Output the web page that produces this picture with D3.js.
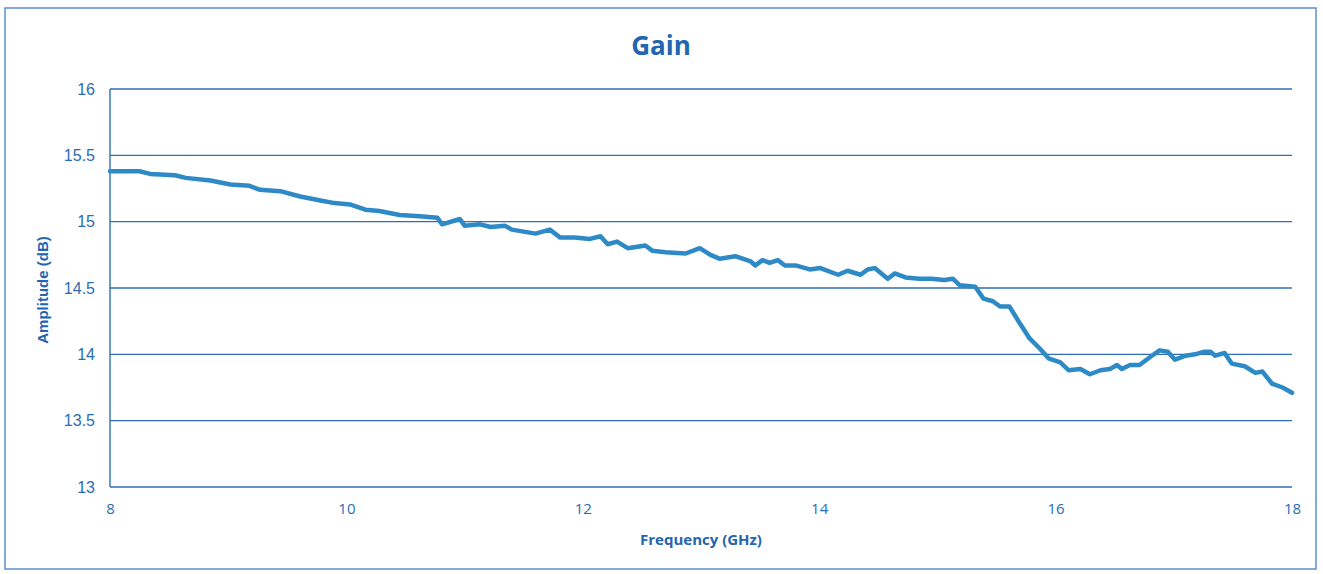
<!DOCTYPE html>
<html>
<head>
<meta charset="utf-8">
<script src="https://cdn.jsdelivr.net/npm/d3@7"></script>
<style>
  html, body { margin: 0; padding: 0; background: #ffffff; }
  svg { display: block; }
</style>
</head>
<body>
<svg id="chart" width="1323" height="574"></svg>
<script>
const title = "Gain";
const xLabel = "Frequency (GHz)";
const yLabel = "Amplitude (dB)";
const xTicks = [8, 10, 12, 14, 16, 18];
const yTicks = [13, 13.5, 14, 14.5, 15, 15.5, 16];

const freq = [8.00, 8.25, 8.34, 8.55, 8.64, 8.85, 9.02, 9.18, 9.27, 9.44, 9.61, 9.78, 9.90, 10.03, 10.16, 10.28, 10.45, 10.62, 10.77, 10.81, 10.96, 11.00, 11.13, 11.22, 11.34, 11.40, 11.60, 11.72, 11.81, 11.93, 12.06, 12.15, 12.21, 12.29, 12.38, 12.53, 12.59, 12.70, 12.87, 12.99, 13.08, 13.16, 13.29, 13.42, 13.46, 13.52, 13.58, 13.65, 13.71, 13.80, 13.92, 14.01, 14.16, 14.24, 14.35, 14.41, 14.47, 14.58, 14.64, 14.73, 14.85, 14.95, 15.06, 15.13, 15.19, 15.32, 15.39, 15.47, 15.53, 15.61, 15.70, 15.78, 15.87, 15.94, 16.04, 16.11, 16.21, 16.29, 16.38, 16.46, 16.52, 16.56, 16.63, 16.71, 16.80, 16.88, 16.95, 17.01, 17.10, 17.18, 17.26, 17.31, 17.35, 17.43, 17.49, 17.60, 17.69, 17.75, 17.83, 17.92, 18.00];
const gain = [15.38, 15.38, 15.36, 15.35, 15.33, 15.31, 15.28, 15.27, 15.24, 15.23, 15.19, 15.16, 15.14, 15.13, 15.09, 15.08, 15.05, 15.04, 15.03, 14.98, 15.02, 14.97, 14.98, 14.96, 14.97, 14.94, 14.91, 14.94, 14.88, 14.88, 14.87, 14.89, 14.83, 14.85, 14.80, 14.82, 14.78, 14.77, 14.76, 14.80, 14.75, 14.72, 14.74, 14.70, 14.67, 14.71, 14.69, 14.71, 14.67, 14.67, 14.64, 14.65, 14.60, 14.63, 14.60, 14.64, 14.65, 14.57, 14.61, 14.58, 14.57, 14.57, 14.56, 14.57, 14.52, 14.51, 14.42, 14.40, 14.36, 14.36, 14.23, 14.12, 14.04, 13.97, 13.94, 13.88, 13.89, 13.85, 13.88, 13.89, 13.92, 13.89, 13.92, 13.92, 13.98, 14.03, 14.02, 13.96, 13.99, 14.00, 14.02, 14.02, 13.99, 14.01, 13.93, 13.91, 13.86, 13.87, 13.78, 13.75, 13.71];

const textColor = "#2a6cb3";
const gridColor = "#2f6db5";
const lineColor = "#2e8ac6";

const svg = d3.select("#chart");
const margin = {left: 110, right: 31, top: 89, bottom: 87};
const W = 1323, H = 574;

// outer frame
svg.append("rect")
  .attr("x", 5).attr("y", 8).attr("width", 1311).attr("height", 561)
  .attr("fill", "none").attr("stroke", "#5b8fcf").attr("stroke-width", 1.5);

const x = d3.scaleLinear().domain([8, 18]).range([margin.left, W - margin.right]);
const y = d3.scaleLinear().domain([13, 16]).range([H - margin.bottom, margin.top]);

// grid
svg.append("g")
  .selectAll("line")
  .data(yTicks)
  .join("line")
  .attr("x1", x(8)).attr("x2", x(18))
  .attr("y1", d => y(d)).attr("y2", d => y(d))
  .attr("stroke", gridColor).attr("stroke-width", 1.4);

// left axis line
svg.append("line")
  .attr("x1", x(8)).attr("x2", x(8))
  .attr("y1", y(16)).attr("y2", y(13))
  .attr("stroke", gridColor).attr("stroke-width", 1.4);

// y axis labels
const yAxis = d3.axisLeft(y).tickValues(yTicks).tickSize(0).tickPadding(15)
  .tickFormat(d => String(d));
const gy = svg.append("g").attr("transform", `translate(${x(8)},0)`).call(yAxis);
gy.select(".domain").remove();
gy.selectAll("text")
  .attr("fill", textColor)
  .style("font-family", "'Liberation Sans', Arial, sans-serif")
  .style("font-size", "16px");

// x axis labels
const xAxis = d3.axisBottom(x).tickValues(xTicks).tickSize(0).tickPadding(16)
  .tickFormat(d => String(d));
const gx = svg.append("g").attr("transform", `translate(0,${y(13)})`).call(xAxis);
gx.select(".domain").remove();
gx.selectAll("text")
  .attr("fill", textColor)
  .style("font-family", "'Open Sans', 'Liberation Sans', Arial, sans-serif")
  .style("font-size", "15px");

// line
const line = d3.line().x((d, i) => x(freq[i])).y(d => y(d)).curve(d3.curveLinear);
svg.append("path")
  .datum(gain)
  .attr("d", line)
  .attr("fill", "none")
  .attr("stroke", lineColor)
  .attr("stroke-width", 4.5)
  .attr("stroke-linejoin", "round")
  .attr("stroke-linecap", "round");

// title
svg.append("text")
  .attr("x", 661).attr("y", 55)
  .attr("text-anchor", "middle")
  .attr("fill", "#2265b0")
  .style("font-family", "'Open Sans', 'Liberation Sans', sans-serif")
  .style("font-weight", "bold")
  .style("font-size", "26px")
  .text(title);

// x label
svg.append("text")
  .attr("x", 701).attr("y", 545)
  .attr("text-anchor", "middle")
  .attr("fill", "#2265b0")
  .style("font-family", "'Open Sans', 'Liberation Sans', sans-serif")
  .style("font-weight", "bold")
  .style("font-size", "15px")
  .text(xLabel);

// y label
svg.append("text")
  .attr("transform", `translate(48,${290}) rotate(-90)`)
  .attr("text-anchor", "middle")
  .attr("fill", "#2265b0")
  .style("font-family", "'Liberation Sans', Arial, sans-serif")
  .style("font-weight", "bold")
  .style("font-size", "15px")
  .text(yLabel);
</script>
</body>
</html>
